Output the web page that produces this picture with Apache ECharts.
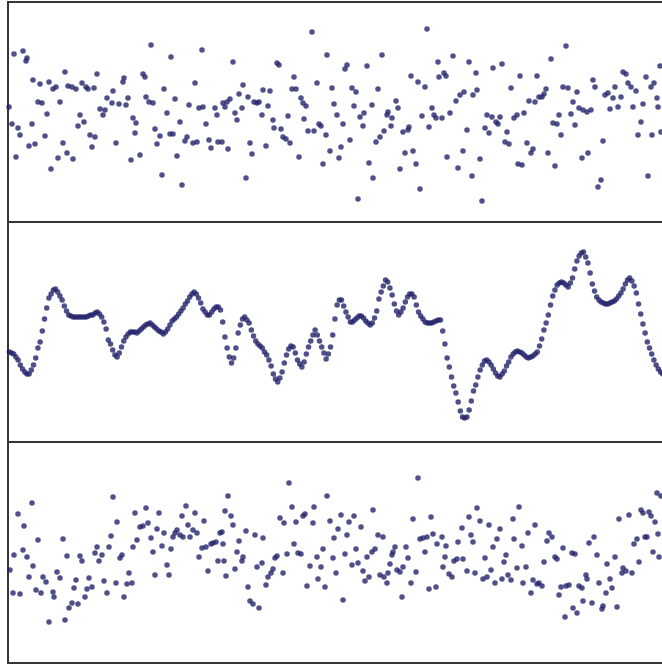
<!DOCTYPE html>
<html>
<head>
<meta charset="utf-8">
<script src="https://cdn.jsdelivr.net/npm/echarts@6/dist/echarts.min.js"></script>
<style>html,body{margin:0;padding:0;background:#fff;overflow:hidden;width:662px;height:669px;}#c{width:720px;height:669px;}</style>
</head>
<body>
<div id="c"></div>
<script>
// Panel 1: noise samples [time, value]
const noisePoints = [[1,5],[4,-12],[6,58],[8,-45],[10,-16],[12,-23],[15,61],[18,51],[19,54],[21,-34],[24,-12],[25,32],[27,-32],[30,10],[32,28],[34,9],[37,-24],[39,-2],[41,30],[43,-57],[45,23],[48,25],[50,-46],[52,10],[55,-31],[57,40],[59,-41],[60,26],[64,25],[65,-47],[68,23],[70,-14],[72,-3],[74,29],[76,-10],[78,25],[80,23],[82,-23],[84,-35],[86,24],[87,-25],[89,38],[92,3],[95,-3],[97,2],[99,14],[104,9],[105,21],[108,-31],[111,8],[115,30],[116,34],[118,7],[120,14],[123,-48],[125,-6],[127,-21],[128,-11],[132,-43],[135,38],[137,35],[138,15],[141,10],[143,67],[145,9],[147,-17],[149,-32],[152,-24],[154,-63],[156,23],[159,-1],[162,-22],[163,55],[165,-22],[167,13],[169,-44],[172,-10],[174,-73],[177,-29],[179,-25],[181,7],[185,-31],[187,29],[189,-30],[191,4],[194,62],[195,5],[198,-12],[201,-28],[203,-36],[207,4],[209,-3],[210,-30],
[214,-30],[215,9],[217,5],[219,10],[220,-37],[222,13],[225,50],[227,-1],[229,-8],[231,18],[234,4],[235,27],[238,-66],[240,15],[242,-31],[244,-42],[246,10],[249,9],[251,10],[254,-3],[255,22],[258,-34],[260,6],[262,21],[265,-8],[266,-16],[269,49],[271,47],[273,-17],[275,-25],[278,-27],[280,-4],[282,-31],[284,23],[286,35],[288,23],[291,-45],[293,14],[295,9],[296,-7],[298,6],[300,-19],[304,80],[306,-19],[309,29],[311,-12],[313,-14],[315,-52],[318,-23],[319,57],[322,-39],[324,24],[326,8],[329,-3],[331,-46],[333,-35],[335,-12],[337,43],[339,47],[342,-28],[344,24],[346,6],[348,20],[350,-87],[352,-5],[355,-14],[356,-1],[359,46],[361,-51],[364,7],[365,-66],[368,-30],[370,23],[372,-25],[374,57],[376,-19],[379,-3],[380,0],[383,-14],[384,-6],[388,11],[390,4],[392,-57],[395,-20],[397,-41],[400,-18],[401,-15],[403,36],[405,-39],[408,-52],[410,30],[412,-77],[414,-4],[417,25],[419,83],[421,-15],[424,4],[426,-3],[428,-6],[430,50],[431,35],
[434,-6],[436,39],[438,36],[439,-45],[442,-1],[445,56],[448,11],[450,-56],[452,17],[455,-39],[456,20],[459,-18],[461,50],[464,-64],[465,17],[468,39],[469,22],[472,-47],[474,-89],[477,-16],[479,-3],[481,-21],[484,-5],[485,44],[488,-10],[490,-12],[492,-5],[494,48],[497,-30],[499,-20],[501,-32],[503,24],[506,-6],[509,-3],[510,-52],[512,36],[514,-53],[516,-1],[519,-31],[521,11],[523,-41],[525,-37],[527,10],[529,36],[531,15],[534,15],[536,18],[538,23],[540,-41],[543,53],[545,-11],[547,-54],[549,-12],[551,-3],[553,-23],[555,25],[558,66],[560,24],[563,-2],[565,10],[567,-13],[569,20],[571,4],[574,-46],[575,2],[579,0],[580,-41],[583,2],[585,32],[587,25],[590,-75],[593,-68],[595,-29],[597,17],[600,19],[602,3],[605,14],[607,25],[610,5],[613,15],[615,40],[618,38],[620,29],[623,25],[625,5],[628,21],[630,-23],[633,-10],[635,8],[638,35],[640,-64],[643,25],[644,-23],[646,29],[649,14],[650,5],[652,46],[653,-20]];

// Panel 2: smooth signal, one value per sample index
const signalValues = [-20,-21,-22,-25,-28,-33,-37,-40,-42,-42,-38,-33,-26,-16,-10,1,13,24,34,38,42,43,40,36,32,26,21,17,16,15,15,15,15,15,15,15,16,17,17,19,20,18,15,10,3,-8,-12,-18,-23,-25,-21,-15,-9,-5,-2,0,0,0,-1,1,3,5,7,8,9,7,5,3,1,0,-2,0,3,7,11,13,15,18,21,24,28,31,35,38,40,38,34,29,23,20,17,17,20,23,25,25,22,10,-5,-16,-25,-31,-26,-16,-1,7,13,15,12,9,2,-4,-9,-12,-14,-16,-20,-23,-28,-34,-42,-47,-50,-46,-40,-31,-23,-17,-14,-15,-21,-28,-32,-35,-30,-22,-15,-9,-3,2,-3,-9,-15,-21,-27,-22,-15,-3,13,27,32,32,26,20,15,10,10,12,14,16,16,14,11,9,7,9,14,21,33,40,46,52,50,44,37,28,21,17,20,24,30,35,38,38,35,27,20,16,13,10,9,9,9,10,11,12,12,1,-12,-26,-35,-45,-54,-61,-70,-79,-85,-86,-85,-78,-69,-59,-53,-45,-38,-33,-29,-28,-30,-33,-37,-41,-44,-45,-42,-39,-34,-30,-25,-22,-20,-19,-20,-21,-23,-25,-26,-25,-24,-22,-20,-14,-7,2,9,17,27,36,42,47,49,50,49,47,45,49,54,63,71,76,79,80,75,69,59,48,41,35,32,30,29,28,28,29,30,31,33,36,39,43,48,52,54,51,46,39,28,18,8,-1,-10,-16,-22,-28,-33,-37,-40,-42,-44];

// Panel 3: signal plus noise samples [time, value]
const noisySignalPoints = [[2,-17],[5,-40],[6,-2],[10,39],[12,-41],[15,3],[16,27],[19,-4],[21,-24],[24,50],[25,-13],[28,-37],[30,13],[33,-40],[35,-24],[38,-29],[41,-69],[45,-39],[46,-44],[49,-19],[52,-25],[55,14],[57,-67],[59,-3],[61,-55],[64,-50],[66,-35],[68,-27],[70,-51],[72,-3],[74,-8],[77,-44],[79,-36],[81,-25],[84,-34],[87,0],[89,6],[91,-8],[94,-2],[96,-28],[99,-40],[101,6],[103,17],[105,56],[108,-30],[109,31],[112,-5],[114,-2],[116,-44],[119,-31],[121,-20],[124,-30],[125,6],[127,40],[129,13],[132,26],[135,27],[138,45],[140,30],[143,15],[145,1],[147,-22],[149,24],[151,40],[154,7],[156,20],[159,-12],[161,-22],[163,4],[165,16],[167,20],[169,23],[172,18],[174,37],[175,16],[178,47],[180,28],[182,16],[185,23],[187,40],[189,20],[191,-4],[194,5],[196,32],[198,6],[200,-18],[203,9],[205,10],[208,11],[210,-8],[212,20],
[214,21],[215,9],[216,-8],[217,42],[218,-23],[220,57],[223,37],[225,28],[227,-16],[229,1],[231,12],[234,-8],[235,-4],[238,22],[240,-34],[242,-48],[245,-51],[247,18],[249,-14],[251,-55],[254,-10],[255,15],[258,-32],[260,-24],[263,-20],[265,-16],[267,-5],[269,-3],[272,35],[275,-20],[276,30],[279,-1],[281,70],[284,46],[286,9],[288,31],[290,0],[293,-1],[295,37],[297,39],[299,-33],[302,-13],[305,30],[306,46],[309,-4],[310,-26],[313,-14],[315,4],[317,-34],[319,57],[322,32],[325,-5],[326,15],[328,-20],[330,24],[333,38],[335,-47],[337,-1],[339,18],[341,31],[344,-12],[346,37],[348,4],[350,-10],[353,26],[355,-18],[357,-28],[359,-4],[361,-24],[364,1],[365,43],[367,4],[370,18],[372,-22],[375,16],[376,-24],[379,-30],[380,-20],[382,-11],[384,-2],[385,1],[387,6],[389,-17],[392,-19],[394,-44],[395,-14],[398,6],[400,-5],[403,-30],[405,34],[408,-19],[410,75],[412,14],[415,15],[417,1],[419,16],[421,-36],[423,36],[425,19],[428,-34],[429,9],
[434,16],[435,-14],[437,-4],[438,7],[441,-21],[444,-24],[446,-8],[449,-6],[450,11],[454,25],[455,-6],[459,-18],[461,36],[463,18],[465,11],[467,-20],[469,45],[472,32],[475,-26],[477,-5],[479,-24],[481,28],[483,-17],[485,6],[487,-30],[489,14],[492,24],[494,-26],[496,-9],[498,-2],[500,-22],[503,-27],[505,34],[506,14],[509,-15],[511,46],[514,7],[515,-30],[518,-14],[520,20],[523,-40],[525,-27],[527,28],[529,-31],[531,-30],[534,-33],[536,-9],[539,12],[541,20],[544,16],[547,-4],[549,-6],[551,-42],[553,-34],[555,5],[557,-64],[558,-33],[561,-32],[564,0],[565,-55],[567,-1],[569,-60],[571,-33],[574,-35],[575,-48],[578,-22],[579,-26],[581,10],[584,-50],[586,16],[589,-2],[591,-30],[594,-56],[595,-53],[598,-40],[599,-11],[602,-26],[604,-35],[607,-4],[609,-54],[611,34],[614,-20],[615,-15],[618,-18],[621,38],[624,-20],[626,9],[629,14],[631,-9],[633,43],[635,40],[637,16],[639,16],[641,41],[643,37],[645,1],[647,31],[649,60],[650,19],[651,-4],[653,57]];

const chart = echarts.init(document.getElementById('c'), null, {renderer: 'canvas'});
const dotColor = '#23236c';
const frame = {show: true, borderColor: '#363636', borderWidth: 2, backgroundColor: '#fff'};
const hiddenAxis = {axisLine: {show: false}, axisTick: {show: false}, axisLabel: {show: false}, splitLine: {show: false}};
chart.setOption({
  animation: false,
  backgroundColor: '#fff',
  grid: [
    Object.assign({left: 8, top: 2, width: 704, height: 220}, frame),
    Object.assign({left: 8, top: 222, width: 704, height: 220}, frame),
    Object.assign({left: 8, top: 442, width: 704, height: 221}, frame)
  ],
  xAxis: [
    Object.assign({type: 'value', gridIndex: 0, min: 0, max: 704}, hiddenAxis),
    Object.assign({type: 'value', gridIndex: 1, min: -0.6, max: 319.4}, hiddenAxis),
    Object.assign({type: 'value', gridIndex: 2, min: 0, max: 704}, hiddenAxis)
  ],
  yAxis: [
    Object.assign({type: 'value', gridIndex: 0, min: -110, max: 110}, hiddenAxis),
    Object.assign({type: 'value', gridIndex: 1, min: -110, max: 110}, hiddenAxis),
    Object.assign({type: 'value', gridIndex: 2, min: -110, max: 111}, hiddenAxis)
  ],
  series: [
    {type: 'scatter', xAxisIndex: 0, yAxisIndex: 0, data: noisePoints, symbolSize: 5.5, itemStyle: {color: dotColor}, silent: true},
    {type: 'scatter', xAxisIndex: 1, yAxisIndex: 1, data: signalValues.map((v, i) => [i, v]), symbolSize: 5.5, itemStyle: {color: dotColor}, silent: true},
    {type: 'scatter', xAxisIndex: 2, yAxisIndex: 2, data: noisySignalPoints, symbolSize: 5.5, itemStyle: {color: dotColor}, silent: true}
  ]
});
</script>
</body>
</html>
